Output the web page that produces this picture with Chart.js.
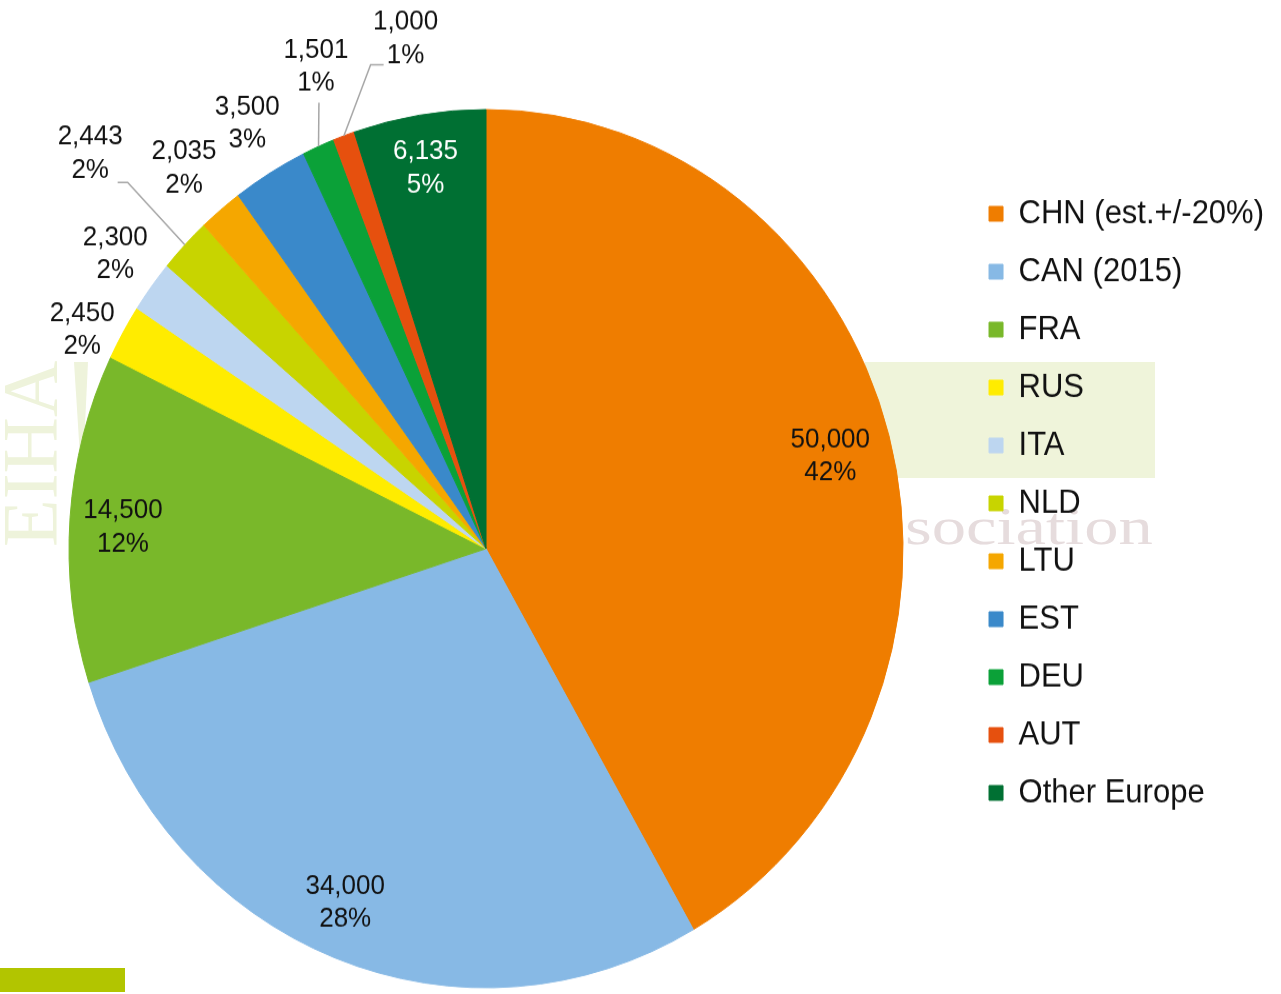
<!DOCTYPE html>
<html>
<head>
<meta charset="utf-8">
<script src="https://cdn.jsdelivr.net/npm/chart.js@4.4.1/dist/chart.umd.min.js"></script>
<style>
  html, body { margin: 0; padding: 0; background: #ffffff; }
  #page { position: absolute; left: 0; top: 0; width: 1281px; height: 994px; overflow: hidden; background: #ffffff; }
  .deco { position: absolute; white-space: nowrap; }
  #stretch { position: absolute; left: 0; top: 0; width: 1281px; height: 944px;
             transform: scaleY(1.053); transform-origin: 0 0; }
  #c { display: block; }
</style>
</head>
<body>
<div id="page">
  <!-- faint background logo decorations -->
  <div class="deco" style="left:865px; top:362px; width:290px; height:116px; background:#EFF4DA;"></div>
  <span class="deco" style="left:-8.7px; top:547px; font:78px/1 'Liberation Serif', 'Times New Roman', serif; color:#EEF3DB; transform-origin:0 0; transform:rotate(-90deg);">EIHA</span>
  <div class="deco" style="left:74px; top:362px; width:14px; height:88px; background:#EEF3DB; clip-path:polygon(0 0,100% 0,70% 100%,40% 100%);"></div>
  <span class="deco" style="left:905px; top:500.5px; font:52px/1 'Liberation Serif', 'Times New Roman', serif; color:#E6DCDD; transform-origin:0 0; transform:scaleX(1.32);">sociation</span>
  <div class="deco" style="left:0; top:968px; width:125px; height:24px; background:#B2C500;"></div>
  <div id="stretch"><canvas id="c" width="1281" height="944"></canvas></div>
</div>
<script>
// ---- data ----
const categories = ['CHN (est.+/-20%)', 'CAN (2015)', 'FRA', 'RUS', 'ITA', 'NLD', 'LTU', 'EST', 'DEU', 'AUT', 'Other Europe'];
const values = [50000, 34000, 14500, 2450, 2300, 2443, 2035, 3500, 1501, 1000, 6135];
const sliceColors = ['#EF7D00', '#87B9E5', '#79B82A', '#FFEC00', '#BDD6F0', '#C8D400', '#F5A700', '#3A89CA', '#0BA138', '#E6500E', '#007033'];

// ---- label placement (style): radius factor and angle offset (deg) per slice ----
const labelPlacement = [
  { rf: 0.852, dA: 0.6 },
  { rf: 0.874, dA: 1.5 },
  { rf: 0.872, dA: -0.9 },
  { rf: 1.089, dA: -2.3 },
  { rf: 1.114, dA: 0.4 },
  { rf: 1.308, dA: -0.3 },
  { rf: 1.129, dA: -0.4 },
  { rf: 1.125, dA: 0.6 },
  { rf: 1.171, dA: 3.3 },
  { rf: 1.177, dA: 10.5 },
  { rf: 0.878, dA: -0.3 }
];
const labelColors = ['#111', '#111', '#111', '#111', '#111', '#111', '#111', '#111', '#111', '#111', '#ffffff'];
// leader line points relative to label centre
const leaderLines = {
  5: [[37.5, 27.5], [27.5, 27.5]],
  8: [[3, 34.2]],
  9: [[-35, 24.7], [-22, 24.7]]
};

const FONT = "'Liberation Sans', Arial, Helvetica, sans-serif";

const sliceLabels = {
  id: 'sliceLabels',
  afterDatasetsDraw(chart) {
    const ctx = chart.ctx;
    const meta = chart.getDatasetMeta(0);
    const data = chart.data.datasets[0].data;
    const total = data.reduce((a, b) => a + b, 0);
    ctx.save();
    ctx.font = '26px ' + FONT;
    ctx.textAlign = 'center';
    ctx.textBaseline = 'middle';
    meta.data.forEach((arc, i) => {
      const p = arc.getProps(['x', 'y', 'startAngle', 'endAngle', 'outerRadius'], true);
      const mid = (p.startAngle + p.endAngle) / 2;
      const pl = labelPlacement[i];
      const a = mid + pl.dA * Math.PI / 180;
      const lx = p.x + Math.cos(a) * p.outerRadius * pl.rf;
      const ly = p.y + Math.sin(a) * p.outerRadius * pl.rf;
      if (leaderLines[i]) {
        ctx.beginPath();
        ctx.moveTo(p.x + Math.cos(mid) * p.outerRadius, p.y + Math.sin(mid) * p.outerRadius);
        leaderLines[i].forEach(([dx, dy]) => ctx.lineTo(lx + dx, ly + dy));
        ctx.strokeStyle = '#A6A6A6';
        ctx.lineWidth = 1.5;
        ctx.stroke();
      }
      const v = data[i];
      ctx.fillStyle = labelColors[i];
      ctx.fillText(v.toLocaleString('en-US'), lx, ly - 15.75);
      ctx.fillText(Math.round(v / total * 100) + '%', lx, ly + 15.75);
    });
    ctx.restore();
  }
};

new Chart(document.getElementById('c'), {
  type: 'pie',
  data: {
    labels: categories,
    datasets: [{
      data: values,
      backgroundColor: sliceColors,
      borderColor: sliceColors,
      borderWidth: 1
    }]
  },
  options: {
    responsive: false,
    devicePixelRatio: 1,
    animation: false,
    events: [],
    layout: { padding: { top: 103.5, bottom: 5.5, left: 7, right: 7 } },
    plugins: {
      tooltip: { enabled: false },
      legend: {
        position: 'right',
        align: 'start',
        title: { display: true, text: '', font: { size: 16 }, padding: { top: 40.8, bottom: 0 } },
        labels: {
          boxWidth: 14,
          boxHeight: 14,
          padding: 24,
          color: '#111',
          font: { family: FONT, size: 31 }
        }
      }
    }
  },
  plugins: [sliceLabels]
});
</script>
</body>
</html>
